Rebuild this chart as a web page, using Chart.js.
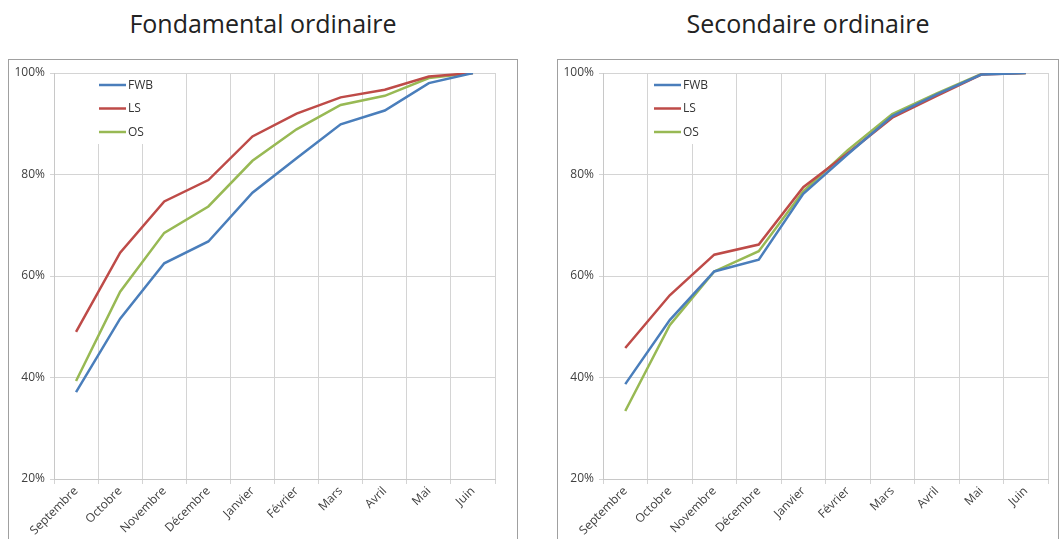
<!DOCTYPE html>
<html>
<head>
<meta charset="utf-8">
<script src="https://cdn.jsdelivr.net/npm/chart.js@4.4.0/dist/chart.umd.min.js"></script>
<style>
  html, body { margin: 0; padding: 0; background: #fff; overflow: hidden; }
  body { width: 1061px; height: 539px; position: relative; font-family: "Open Sans", sans-serif; }
  .title { position: absolute; top: 6px; font-size: 25px; color: #222; text-align: center; white-space: nowrap; }
  .box { position: absolute; top: 59px; height: 520px; border: 1px solid #a0a0a0; box-sizing: border-box; background: #fff; }
  .box canvas { position: absolute; left: 0; top: 0; }
</style>
</head>
<body>
<div class="title" style="left:8px;width:510px;">Fondamental ordinaire</div>
<div class="title" style="left:557px;width:502px;">Secondaire ordinaire</div>
<div class="box" style="left:8px;width:510px;"><canvas id="c1"></canvas></div>
<div class="box" style="left:557px;width:502px;"><canvas id="c2"></canvas></div>
<script>
const months = ['Septembre', 'Octobre', 'Novembre', 'Décembre', 'Janvier', 'Février', 'Mars', 'Avril', 'Mai', 'Juin'];
const seriesNames = ['FWB', 'LS', 'OS'];
const seriesColors = ['#4a7ebb', '#be4b48', '#98b954'];
const yTicks = [20, 40, 60, 80, 100];

// Fondamental ordinaire
const fondFWB = [37.1, 51.6, 62.5, 66.8, 76.4, 83.2, 89.9, 92.6, 98.0, 100];
const fondLS  = [49.0, 64.6, 74.7, 78.9, 87.5, 92.0, 95.2, 96.7, 99.3, 100];
const fondOS  = [39.3, 56.9, 68.5, 73.7, 82.7, 88.9, 93.7, 95.5, 99.0, 100];

// Secondaire ordinaire
const secFWB = [38.7, 51.3, 60.9, 63.2, 76.2, 84.0, 91.5, 95.8, 99.7, 100];
const secLS  = [45.8, 56.2, 64.2, 66.2, 77.5, 84.2, 91.2, 95.5, 99.7, 100];
const secOS  = [33.4, 50.3, 60.9, 64.9, 76.7, 84.8, 91.9, 96.0, 99.8, 100];

const tickFont = { family: '"Open Sans", sans-serif', size: 12 };

// legend drawn inside the plot, on a white patch that hides the grid
const insideLegend = {
  id: 'insideLegend',
  beforeDatasetsDraw(chart, args, opts) {
    const ctx = chart.ctx;
    const x = chart.chartArea.left + opts.dx;
    const y = chart.chartArea.top;
    ctx.save();
    ctx.fillStyle = '#fff';
    ctx.fillRect(x - 6, y + 1, 64, 70);
    ctx.font = '12px "Open Sans", sans-serif';
    ctx.textBaseline = 'middle';
    chart.data.datasets.forEach((ds, i) => {
      const ly = y + 12 + i * 23.5;
      ctx.strokeStyle = ds.borderColor;
      ctx.lineWidth = 2.5;
      ctx.beginPath();
      ctx.moveTo(x, ly);
      ctx.lineTo(x + 27, ly);
      ctx.stroke();
      ctx.fillStyle = '#333';
      ctx.fillText(ds.label, x + 29, ly + 0.5);
    });
    ctx.restore();
  }
};

function makeChart(id, w, plotW, data, legendDx) {
  const canvas = document.getElementById(id);
  canvas.width = w;
  canvas.height = 480;
  canvas.style.width = w + 'px';
  canvas.style.height = '480px';
  return new Chart(canvas, {
    type: 'line',
    data: {
      labels: months,
      datasets: data.map((vals, i) => ({
        label: seriesNames[i],
        data: vals,
        borderColor: seriesColors[i],
        backgroundColor: seriesColors[i],
        borderWidth: 2.5,
        pointRadius: 0,
        tension: 0,
        fill: false
      }))
    },
    options: {
      responsive: false,
      animation: false,
      layout: { padding: { left: 0, right: w - 45 - plotW - 1, top: 13, bottom: 0 } },
      plugins: {
        legend: { display: false },
        tooltip: { enabled: false },
        insideLegend: { dx: legendDx }
      },
      scales: {
        x: {
          offset: true,
          grid: { offset: true, color: '#d4d4d4', tickLength: 5, lineWidth: 1 },
          border: { color: '#c8c8c8' },
          ticks: { font: tickFont, color: '#404040', minRotation: 45, maxRotation: 45, padding: 0, autoSkip: false },
          afterFit(scale) { scale.height = 61; }
        },
        y: {
          min: 20, max: 100,
          afterBuildTicks(scale) { scale.ticks = yTicks.map(v => ({ value: v })); },
          grid: { color: '#d4d4d4', tickLength: 4, lineWidth: 1 },
          border: { color: '#c8c8c8' },
          ticks: { font: tickFont, color: '#404040', padding: 5, callback: v => v + '%' },
          afterFit(scale) { scale.width = 45; }
        }
      }
    },
    plugins: [insideLegend]
  });
}

makeChart('c1', 510, 440, [fondFWB, fondLS, fondOS], 45);
makeChart('c2', 502, 444, [secFWB, secLS, secOS], 51);
</script>
</body>
</html>
